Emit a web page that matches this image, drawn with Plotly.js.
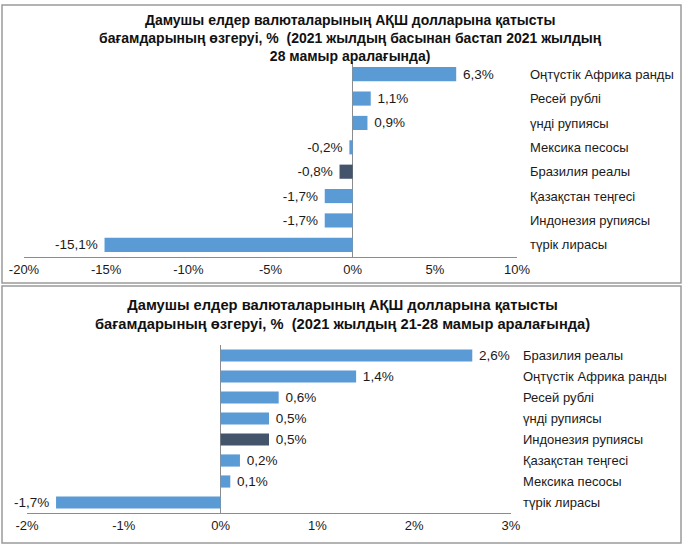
<!DOCTYPE html>
<html>
<head>
<meta charset="utf-8">
<script src="https://cdn.plot.ly/plotly-3.0.1.min.js"></script>
<style>html,body{margin:0;padding:0;background:#fff;}#chart{width:685px;height:551px;}</style>
</head>
<body>
<div id="chart"></div>
<script>
// Chart 1: since the beginning of 2021 to 28 May 2021
const categories1 = ['Оңтүстік Африка ранды', 'Ресей рублі', 'үнді рупиясы', 'Мексика песосы', 'Бразилия реалы', 'Қазақстан теңгесі', 'Индонезия рупиясы', 'түрік лирасы'];
const values1 = [6.3, 1.1, 0.9, -0.2, -0.8, -1.7, -1.7, -15.1];
const highlight1 = 'Бразилия реалы';
const ticks1 = [-20, -15, -10, -5, 0, 5, 10];

// Chart 2: 21-28 May 2021
const categories2 = ['Бразилия реалы', 'Оңтүстік Африка ранды', 'Ресей рублі', 'үнді рупиясы', 'Индонезия рупиясы', 'Қазақстан теңгесі', 'Мексика песосы', 'түрік лирасы'];
const values2 = [2.6, 1.4, 0.6, 0.5, 0.5, 0.2, 0.1, -1.7];
const highlight2 = 'Индонезия рупиясы';
const ticks2 = [-2, -1, 0, 1, 2, 3];

const title1 = 'Дамушы елдер валюталарының АҚШ долларына қатысты<br>бағамдарының өзгеруі, %  (2021 жылдың басынан бастап 2021 жылдың<br>28 мамыр аралағында)';
const title2 = 'Дамушы елдер валюталарының АҚШ долларына қатысты<br>бағамдарының өзгеруі, %  (2021 жылдың 21-28 мамыр аралағында)';

const BLUE = '#5b9bd5';
const DARK = '#44546a';
const FONT = '"Liberation Sans", Arial, sans-serif';
const fmt = v => {
  const s = v.toFixed(1).replace('.', ',') + '%';
  return v >= 0 ? '\u00a0' + s : s + '\u00a0';
};

const W = 685, H = 551;
const px = x => x / W;
const py = y => 1 - y / H;

function barTrace(cats, vals, hl, xa, ya) {
  return {
    type: 'bar', orientation: 'h',
    x: vals, y: cats,
    xaxis: xa, yaxis: ya,
    marker: {color: cats.map(c => c === hl ? DARK : BLUE)},
    text: vals.map(fmt),
    textposition: 'outside',
    constraintext: 'none',
    textfont: {family: FONT, size: 13.5, color: '#1a1a1a'},
    cliponaxis: false,
    hoverinfo: 'skip'
  };
}

const data = [
  barTrace(categories1, values1, highlight1, 'x', 'y'),
  barTrace(categories2, values2, highlight2, 'x2', 'y2')
];

const axFont = {family: FONT, size: 13, color: '#1a1a1a'};

const layout = {
  width: W, height: H,
  margin: {l: 0, r: 0, t: 0, b: 0},
  paper_bgcolor: '#fff', plot_bgcolor: '#fff',
  showlegend: false,
  bargap: 0.42,
  xaxis: {
    domain: [px(24), px(517)], anchor: 'y',
    range: [-20, 10], tickvals: ticks1, ticktext: ticks1.map(t => t + '%'),
    showgrid: false, zeroline: true, zerolinecolor: '#8c8c8c', zerolinewidth: 1,
    showline: true, linecolor: '#8c8c8c', linewidth: 1, ticks: '',
    tickfont: axFont, fixedrange: true
  },
  yaxis: {
    domain: [py(257), py(62)], anchor: 'x',
    type: 'category', autorange: 'reversed', side: 'right',
    showgrid: false, zeroline: false, showline: false, ticks: '',
    ticklabelstandoff: 12,
    tickfont: axFont, fixedrange: true
  },
  xaxis2: {
    domain: [px(27), px(511)], anchor: 'y2',
    range: [-2, 3], tickvals: ticks2, ticktext: ticks2.map(t => t + '%'),
    showgrid: false, zeroline: true, zerolinecolor: '#8c8c8c', zerolinewidth: 1,
    showline: true, linecolor: '#8c8c8c', linewidth: 1, ticks: '',
    tickfont: axFont, fixedrange: true
  },
  yaxis2: {
    domain: [py(513), py(345)], anchor: 'x2',
    type: 'category', autorange: 'reversed', side: 'right',
    showgrid: false, zeroline: false, showline: false, ticks: '',
    ticklabelstandoff: 11,
    tickfont: axFont, fixedrange: true
  },
  annotations: [
    {text: title1, xref: 'paper', yref: 'paper', x: px(350), y: py(10), xanchor: 'center', yanchor: 'top',
     showarrow: false, align: 'center', font: {family: FONT, size: 14, color: '#111', weight: 'bold'}},
    {text: title2, xref: 'paper', yref: 'paper', x: px(342), y: py(295), xanchor: 'center', yanchor: 'top',
     showarrow: false, align: 'center', font: {family: FONT, size: 14.7, color: '#111', weight: 'bold'}}
  ],
  shapes: [
    {type: 'rect', xref: 'paper', yref: 'paper', x0: px(2), x1: px(681), y0: py(5), y1: py(283),
     line: {color: '#9a9a9a', width: 1.5}, fillcolor: 'rgba(0,0,0,0)', layer: 'below'},
    {type: 'rect', xref: 'paper', yref: 'paper', x0: px(2), x1: px(681), y0: py(286), y1: py(543),
     line: {color: '#9a9a9a', width: 1.5}, fillcolor: 'rgba(0,0,0,0)', layer: 'below'}
  ]
};

Plotly.newPlot('chart', data, layout, {displayModeBar: false, staticPlot: true});
</script>
</body>
</html>
